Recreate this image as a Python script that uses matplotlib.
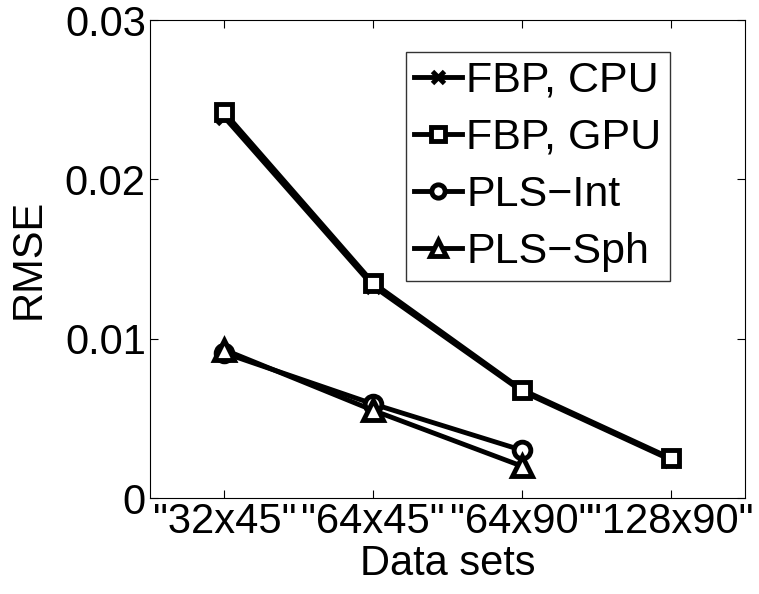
import numpy as np
import matplotlib
matplotlib.use('Agg')
import matplotlib.pyplot as plt

plt.rcParams['font.family'] = ['Liberation Sans', 'DejaVu Sans']

# data sets on the x axis
labels = ['"32x45"', '"64x45"', '"64x90"', '"128x90"']
x_fbp = [1, 2, 3, 4]
x_pls = [1, 2, 3]

fbp_cpu = [0.0239, 0.0133, 0.0067, 0.0024]
fbp_gpu = [0.0242, 0.0135, 0.0068, 0.0025]
pls_int = [0.0091, 0.0059, 0.0030]
pls_sph = [0.0093, 0.0055, 0.0020]

fig = plt.figure(figsize=(7.59, 5.94), dpi=100)
ax = fig.add_axes([150/759, 1-498/594, 595/759, 478/594])

lw = 3.5
ax.plot(x_fbp, fbp_cpu, 'k-x', lw=lw, ms=10, mew=3.5, label='FBP, CPU')
ax.plot(x_fbp, fbp_gpu, 'k-s', lw=lw, ms=12, mew=3.5, mfc='w', label='FBP, GPU')
ax.plot(x_pls, pls_int, 'k-o', lw=lw, ms=12, mew=3.5, mfc='w', label='PLS\u2212Int')
ax.plot(x_pls, pls_sph, 'k-^', lw=lw, ms=15, mew=3.5, mfc='w', label='PLS\u2212Sph')

ax.set_xlim(0.5, 4.5)
ax.set_ylim(0, 0.03)
ax.set_xticks(x_fbp)
ax.set_xticklabels(labels)
ax.set_yticks([0, 0.01, 0.02, 0.03])
ax.set_yticklabels(['0', '0.01', '0.02', '0.03'])
ax.tick_params(direction='in', top=True, right=True, labelsize=30, length=6, pad=3)
ax.set_xlabel('Data sets', fontsize=30, labelpad=1)
ax.set_ylabel('RMSE', fontsize=30, labelpad=12)

leg = ax.legend(loc='upper right', bbox_to_anchor=(520/595, 1-32/478), fontsize=31,
                frameon=True, fancybox=False, handlelength=1.1, handletextpad=0.1,
                borderpad=0.2, labelspacing=0.4, borderaxespad=0, markerscale=0.8)
leg.get_frame().set_edgecolor('k')
leg.get_frame().set_linewidth(1)

plt.savefig('out.png', dpi=100)
